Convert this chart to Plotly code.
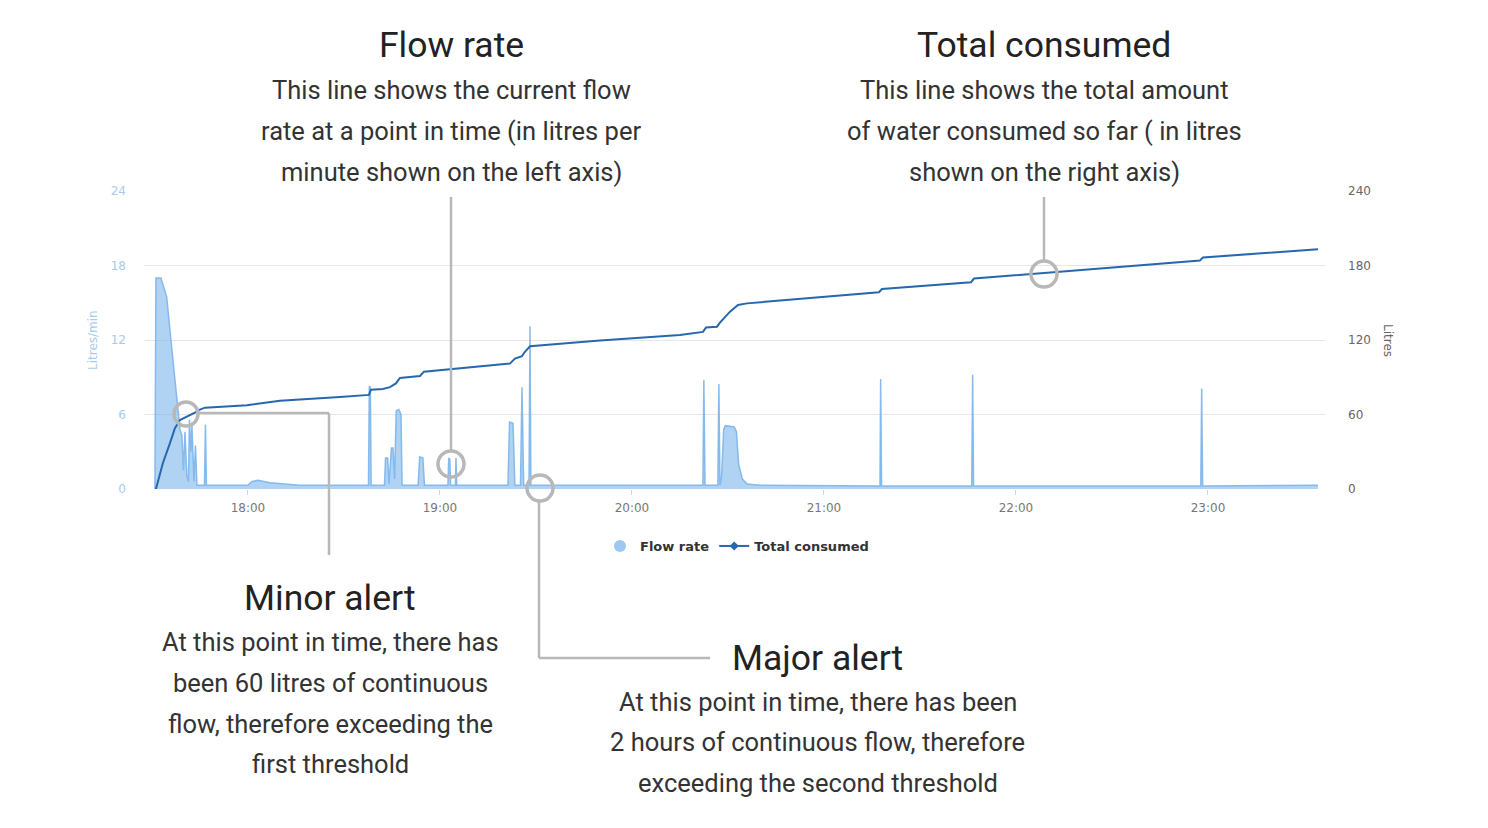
import plotly.graph_objects as go

DAY = "2021-03-01 "

# ---- data ----
flow_times = [
    "17:30:56", "17:31:15", "17:32:49", "17:33:26", "17:34:36", "17:35:38", "17:37:11", "17:38:08",
    "17:38:45", "17:39:22", "17:39:50", "17:40:19", "17:40:56", "17:41:25", "17:41:43", "17:42:11",
    "17:42:30", "17:43:08", "17:43:36", "17:44:04", "17:46:25", "17:46:43", "17:47:02", "18:00:00",
    "18:01:15", "18:03:08", "18:06:53", "18:16:15", "18:37:40", "18:37:55", "18:38:15", "18:38:30",
    "18:42:40", "18:43:00", "18:43:40", "18:44:05", "18:44:50", "18:45:20", "18:45:50", "18:46:20",
    "18:47:10", "18:47:50", "18:48:10", "18:53:10", "18:53:40", "18:54:40", "18:55:10", "19:02:30",
    "19:02:45", "19:03:05", "19:03:20", "19:04:50", "19:05:00", "19:05:15", "19:21:15", "19:21:45",
    "19:22:50", "19:23:25", "19:25:10", "19:25:38", "19:26:10", "19:27:50", "19:28:08", "19:28:25",
    "20:22:10", "20:22:28", "20:22:50", "20:26:50", "20:27:10", "20:27:30", "20:28:00", "20:28:40",
    "20:29:10", "20:32:00", "20:32:40", "20:33:20", "20:34:30", "20:36:00", "20:40:00", "21:17:30",
    "21:17:43", "21:18:00", "21:46:10", "21:46:28", "21:46:45", "22:57:45", "22:58:02", "22:58:20",
    "23:34:22",
]
flow_values = [
    0, 17.0, 17.0, 16.5, 15.5, 12.8, 8.8, 6.0,
    4.8, 4.3, 1.5, 4.6, 1.0, 0.6, 5.6, 3.0,
    5.2, 0.6, 3.5, 0.3, 0.3, 5.2, 0.3, 0.3,
    0.6, 0.7, 0.5, 0.3, 0.3, 8.3, 8.2, 0.3,
    0.3, 2.5, 2.5, 0.4, 3.3, 3.3, 0.8, 6.3,
    6.4, 6.0, 0.3, 0.3, 2.6, 2.5, 0.3, 0.3,
    2.5, 2.4, 0.3, 0.3, 2.5, 0.3, 0.3, 5.4,
    5.3, 0.3, 0.3, 8.2, 0.3, 0.3, 13.1, 0.3,
    0.3, 8.8, 0.3, 0.3, 8.45, 0.3, 1.0, 4.8,
    5.1, 5.0, 4.6, 2.0, 0.8, 0.4, 0.3, 0.25,
    8.85, 0.25, 0.25, 9.2, 0.25, 0.25, 8.1, 0.25,
    0.3,
]

total_times = [
    "17:31:15", "17:33:26", "17:35:38", "17:37:11", "17:38:45", "17:40:50", "17:41:52", "17:43:26",
    "17:45:00", "17:46:34", "17:59:41", "18:10:00", "18:28:45", "18:37:49", "18:38:26", "18:42:11",
    "18:44:22", "18:46:15", "18:47:30", "18:53:45", "18:55:00", "19:03:08", "19:21:52", "19:23:26",
    "19:25:38", "19:26:34", "19:28:08", "19:50:00", "20:15:00", "20:22:11", "20:23:08", "20:26:34",
    "20:27:30", "20:30:38", "20:33:08", "20:35:56", "21:17:11", "21:18:08", "21:45:56", "21:46:52",
    "22:57:30", "22:58:26", "23:34:22",
]
total_values = [
    0, 21, 37, 49, 55.5, 58, 59, 61.5,
    64, 65.5, 67.5, 71, 74, 75.8, 80, 80.5,
    82, 85, 89.4, 91, 94.5, 96.6, 101, 105,
    107, 110.5, 115, 119.5, 124, 126.5, 130, 130.7,
    134, 142.8, 148.2, 149.5, 158.5, 161, 166.5, 169.5,
    184, 186.5, 193,
]

x_tick_labels = ["18:00", "19:00", "20:00", "21:00", "22:00", "23:00"]
left_ticks = [0, 6, 12, 18, 24]
right_ticks = [0, 60, 120, 180, 240]

# ---- layout geometry (pixels) ----
W, H = 1488, 828
L, R, T, B = 145, 1325, 191, 489


def px(x):
    return (x - L) / (R - L)


def py(y):
    return (B - y) / (B - T)


fig = go.Figure()

fig.add_trace(go.Scatter(
    x=[DAY + t for t in flow_times], y=flow_values, mode="lines",
    line=dict(color="rgba(124,181,236,0.9)", width=1.5),
    fill="tozeroy", fillcolor="rgba(124,181,236,0.6)",
    name="Flow rate", showlegend=False, yaxis="y",
))
fig.add_trace(go.Scatter(
    x=[DAY + t for t in total_times], y=total_values, mode="lines",
    line=dict(color="#2767ad", width=2),
    name="Total consumed", showlegend=False, yaxis="y2",
))
# legend entries
fig.add_trace(go.Scatter(
    x=[None], y=[None], mode="markers", name="Flow rate",
    marker=dict(symbol="circle", size=12, color="rgba(124,181,236,0.75)"),
))
fig.add_trace(go.Scatter(
    x=[None], y=[None], mode="lines+markers", name="Total consumed",
    line=dict(color="#2767ad", width=2),
    marker=dict(symbol="diamond", size=7, color="#2767ad"),
))

GRAY = "#b8b8b8"
shapes = []


def circle(cx, cy, r=12):
    shapes.append(dict(type="circle", xref="paper", yref="paper",
                       x0=px(cx - r), x1=px(cx + r), y0=py(cy + r), y1=py(cy - r),
                       line=dict(color=GRAY, width=3.5), fillcolor="rgba(0,0,0,0)", layer="above"))


def seg(x0, y0, x1, y1):
    shapes.append(dict(type="line", xref="paper", yref="paper",
                       x0=px(x0), y0=py(y0), x1=px(x1), y1=py(y1),
                       line=dict(color=GRAY, width=2.5), layer="above"))


# Flow rate callout
circle(451, 464, 13)
seg(451, 197, 451, 451)
# Total consumed callout
circle(1044, 274, 13)
seg(1044, 197, 1044, 261)
# Minor alert callout
circle(186, 414, 12)
seg(198, 413, 329, 413)
seg(329, 413, 329, 555)
# Major alert callout
circle(540, 488, 13)
seg(539, 501, 539, 658)
seg(539, 658, 710, 658)

ann = []
TF = "Roboto"


def text(x, y, s, size, color="#333333"):
    ann.append(dict(xref="paper", yref="paper", x=px(x), y=py(y), text=s, showarrow=False,
                    xanchor="center", yanchor="middle", font=dict(family=TF, size=size, color=color)))


TS, DS = 35.5, 25.5
text(451, 45, "Flow rate", TS, "#222222")
text(451, 90, "This line shows the current flow", DS)
text(451, 131, "rate at a point in time (in litres per", DS)
text(451, 172, "minute shown on the left axis)", DS)

text(1044, 45, "Total consumed", TS, "#222222")
text(1044, 90, "This line shows the total amount", DS)
text(1044, 131, "of water consumed so far ( in litres", DS)
text(1044, 172, "shown on the right axis)", DS)

text(330, 598, "Minor alert", TS, "#222222")
text(330, 642, "At this point in time, there has", DS)
text(330, 683, "been 60 litres of continuous", DS)
text(330, 724, "flow, therefore exceeding the", DS)
text(330, 764, "first threshold", DS)

text(818, 658, "Major alert", TS, "#222222")
text(818, 702, "At this point in time, there has been", DS)
text(818, 742, "2 hours of continuous flow, therefore", DS)
text(818, 783, "exceeding the second threshold", DS)

# axis titles
ann.append(dict(xref="paper", yref="paper", x=px(93), y=py(340), text="Litres/min", showarrow=False,
                textangle=-90, xanchor="center", yanchor="middle",
                font=dict(family="DejaVu Sans", size=12, color="#a9cbec")))
ann.append(dict(xref="paper", yref="paper", x=px(1388), y=py(340), text="Litres", showarrow=False,
                textangle=90, xanchor="center", yanchor="middle",
                font=dict(family="DejaVu Sans", size=12, color="#666666")))

fig.update_layout(
    width=W, height=H, autosize=False,
    margin=dict(l=L, r=W - R, t=T, b=H - B, pad=0),
    paper_bgcolor="white", plot_bgcolor="white",
    shapes=shapes, annotations=ann,
    xaxis=dict(
        type="date",
        range=[DAY + "17:27:50", DAY + "23:36:34"],
        tickvals=[DAY + t for t in x_tick_labels], ticktext=x_tick_labels,
        showgrid=False, zeroline=False, showline=False,
        ticks="outside", ticklen=5, tickcolor="#ccd6eb", ticklabelstandoff=3,
        tickfont=dict(family="DejaVu Sans", size=12, color="#777777"),
    ),
    yaxis=dict(
        range=[0, 24], tickvals=left_ticks, showgrid=True, gridcolor="#e6e6e6", gridwidth=1,
        zeroline=False, showline=False, ticks="", ticklabelstandoff=18,
        tickfont=dict(family="DejaVu Sans", size=12, color="#a9cbec"),
    ),
    yaxis2=dict(
        range=[0, 240], tickvals=right_ticks, overlaying="y", side="right", showgrid=False,
        zeroline=False, showline=False, ticks="", ticklabelstandoff=22,
        tickfont=dict(family="DejaVu Sans", size=12, color="#666666"),
    ),
    legend=dict(orientation="h", x=px(737), y=py(546), xanchor="center", yanchor="middle",
                itemwidth=30,
                font=dict(family="DejaVu Sans", size=13, color="#333333", weight="bold"),
                bgcolor="rgba(0,0,0,0)"),
    showlegend=True,
)

fig.write_html("out.html")
